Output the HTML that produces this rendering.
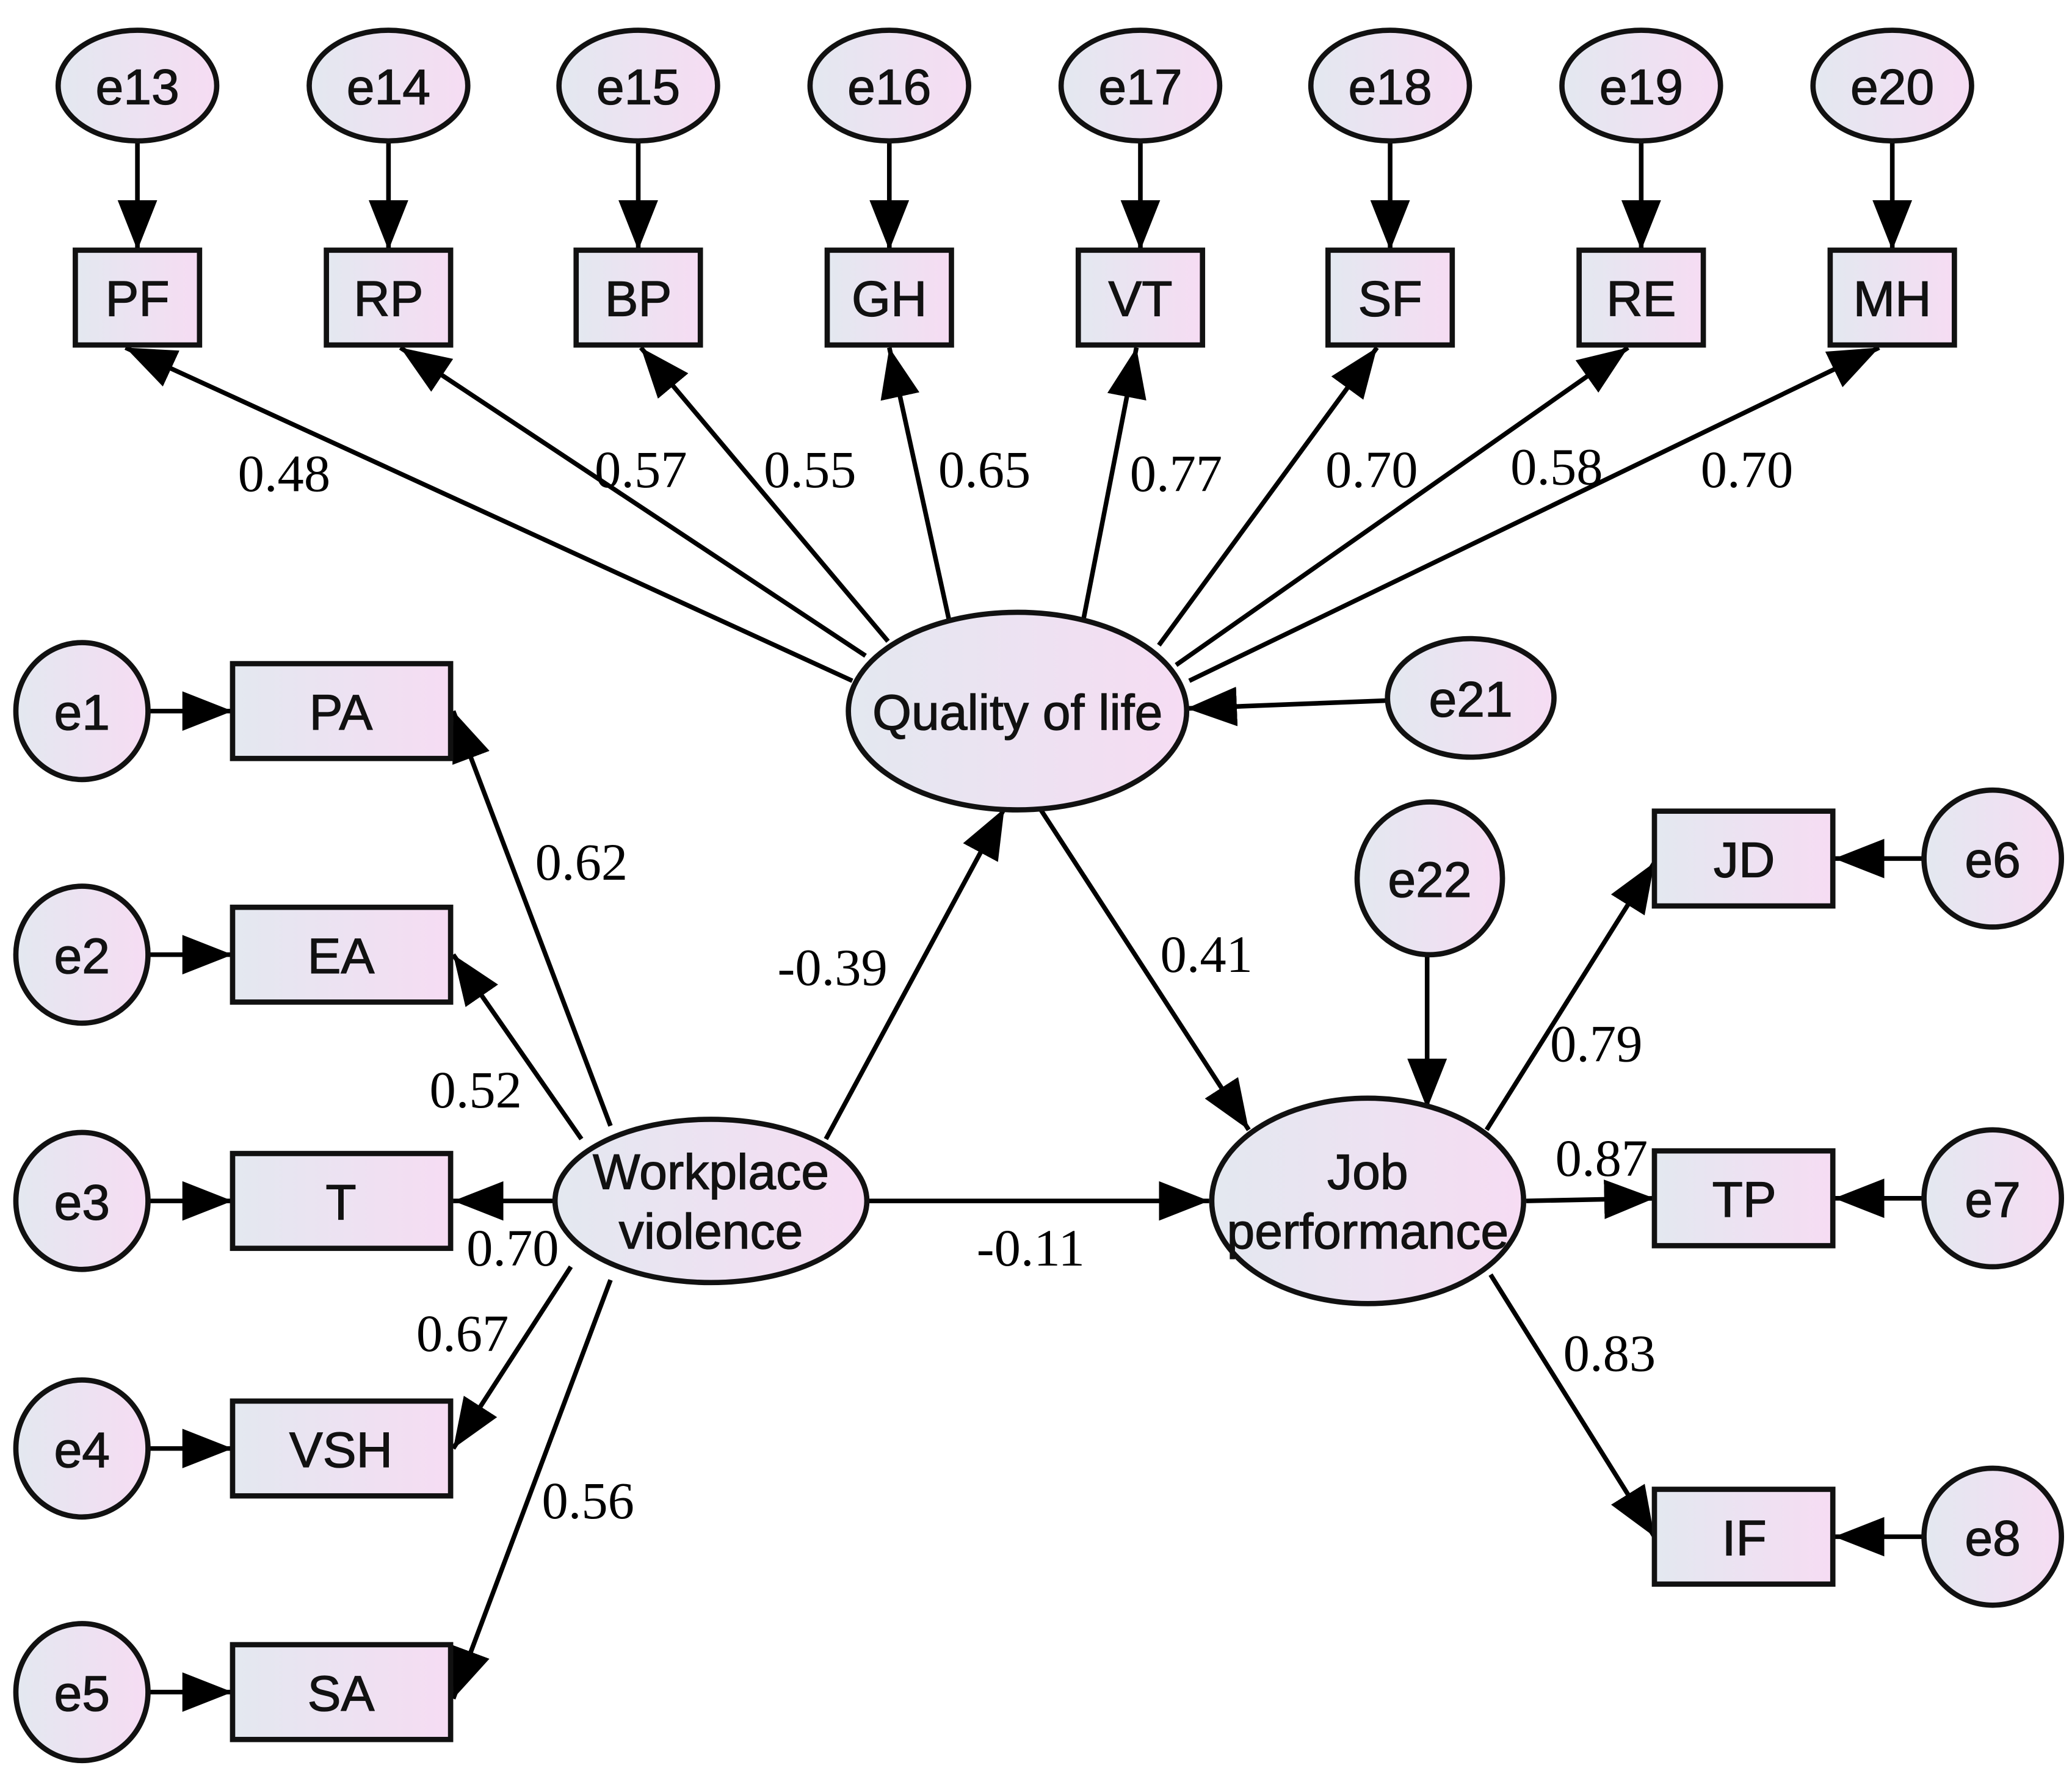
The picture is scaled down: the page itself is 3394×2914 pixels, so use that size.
<!DOCTYPE html>
<html><head><meta charset="utf-8"><style>html,body{margin:0;padding:0;background:#fff}svg{display:block}</style></head><body>
<svg width="3394" height="2914" viewBox="0 0 1568 1351" preserveAspectRatio="none" xmlns="http://www.w3.org/2000/svg">
<defs>
<linearGradient id="g" x1="0" y1="0" x2="1" y2="0"><stop offset="0" stop-color="#e3e8f0"/><stop offset="1" stop-color="#f6dcf3"/></linearGradient>
<marker id="a" markerUnits="userSpaceOnUse" markerWidth="40" markerHeight="32" refX="38" refY="15" orient="auto"><path d="M0,0 L38,15 L0,30 Z" fill="#000"/></marker>
</defs>
<g stroke="#000" stroke-width="3.5" fill="none" marker-end="url(#a)">
<line x1="104" y1="107" x2="104" y2="190"/><line x1="294" y1="107" x2="294" y2="190"/><line x1="483" y1="107" x2="483" y2="190"/><line x1="673" y1="107" x2="673" y2="190"/><line x1="863" y1="107" x2="863" y2="190"/><line x1="1052" y1="107" x2="1052" y2="190"/><line x1="1242" y1="107" x2="1242" y2="190"/><line x1="1432" y1="107" x2="1432" y2="190"/>
<line x1="645" y1="517" x2="95" y2="264"/><line x1="655" y1="498" x2="303" y2="264"/><line x1="672" y1="487" x2="485" y2="264"/><line x1="718" y1="470" x2="673" y2="264"/><line x1="820" y1="470" x2="860" y2="264"/><line x1="877" y1="490" x2="1042" y2="264"/><line x1="890" y1="505" x2="1232" y2="264"/><line x1="900" y1="517" x2="1422" y2="264"/>
<line x1="1050" y1="532" x2="898" y2="538"/>
<line x1="112" y1="540" x2="176" y2="540"/><line x1="112" y1="725" x2="176" y2="725"/><line x1="112" y1="912" x2="176" y2="912"/><line x1="112" y1="1100" x2="176" y2="1100"/><line x1="112" y1="1285" x2="176" y2="1285"/>
<line x1="462" y1="855" x2="343" y2="540"/><line x1="440" y1="865" x2="343" y2="725"/><line x1="420" y1="912" x2="343" y2="912"/><line x1="432" y1="962" x2="343" y2="1100"/><line x1="462" y1="972" x2="343" y2="1290"/>
<line x1="625" y1="865" x2="760" y2="614"/><line x1="787" y1="614" x2="945" y2="858"/><line x1="656" y1="912" x2="915" y2="912"/>
<line x1="1080" y1="725" x2="1080" y2="842"/>
<line x1="1125" y1="858" x2="1252" y2="655"/><line x1="1155" y1="912" x2="1252" y2="910"/><line x1="1128" y1="968" x2="1252" y2="1167"/>
<line x1="1456" y1="652" x2="1388" y2="652"/><line x1="1456" y1="910" x2="1388" y2="910"/><line x1="1456" y1="1167" x2="1388" y2="1167"/>
</g>
<g stroke="#111" stroke-width="4" fill="url(#g)">
<ellipse cx="104" cy="65" rx="60" ry="42"/><ellipse cx="294" cy="65" rx="60" ry="42"/><ellipse cx="483" cy="65" rx="60" ry="42"/><ellipse cx="673" cy="65" rx="60" ry="42"/><ellipse cx="863" cy="65" rx="60" ry="42"/><ellipse cx="1052" cy="65" rx="60" ry="42"/><ellipse cx="1242" cy="65" rx="60" ry="42"/><ellipse cx="1432" cy="65" rx="60" ry="42"/>
<rect x="57" y="190" width="94" height="72"/><rect x="247" y="190" width="94" height="72"/><rect x="436" y="190" width="94" height="72"/><rect x="626" y="190" width="94" height="72"/><rect x="816" y="190" width="94" height="72"/><rect x="1005" y="190" width="94" height="72"/><rect x="1195" y="190" width="94" height="72"/><rect x="1385" y="190" width="94" height="72"/>
<ellipse cx="770" cy="540" rx="128" ry="75"/><ellipse cx="1113" cy="530" rx="63" ry="45"/>
<ellipse cx="62" cy="540" rx="50" ry="52"/><ellipse cx="62" cy="725" rx="50" ry="52"/><ellipse cx="62" cy="912" rx="50" ry="52"/><ellipse cx="62" cy="1100" rx="50" ry="52"/><ellipse cx="62" cy="1285" rx="50" ry="52"/>
<rect x="176" y="504" width="165" height="72"/><rect x="176" y="689" width="165" height="72"/><rect x="176" y="876" width="165" height="72"/><rect x="176" y="1064" width="165" height="72"/><rect x="176" y="1249" width="165" height="72"/>
<ellipse cx="538" cy="912" rx="118" ry="62"/><ellipse cx="1035" cy="912" rx="118" ry="78"/>
<ellipse cx="1082" cy="667" rx="55" ry="58"/>
<rect x="1252" y="616" width="135" height="72"/><rect x="1252" y="874" width="135" height="72"/><rect x="1252" y="1131" width="135" height="72"/>
<ellipse cx="1508" cy="652" rx="52" ry="52"/><ellipse cx="1508" cy="910" rx="52" ry="52"/><ellipse cx="1508" cy="1167" rx="52" ry="52"/>
</g>
<g font-family="Liberation Sans, sans-serif" font-size="38" text-anchor="middle" fill="#111" stroke="#111" stroke-width="0.6">
<text x="104" y="79">e13</text><text x="294" y="79">e14</text><text x="483" y="79">e15</text><text x="673" y="79">e16</text><text x="863" y="79">e17</text><text x="1052" y="79">e18</text><text x="1242" y="79">e19</text><text x="1432" y="79">e20</text>
<text x="104" y="240">PF</text><text x="294" y="240">RP</text><text x="483" y="240">BP</text><text x="673" y="240">GH</text><text x="863" y="240">VT</text><text x="1052" y="240">SF</text><text x="1242" y="240">RE</text><text x="1432" y="240">MH</text>
<text x="770" y="554">Quality of life</text><text x="1113" y="544">e21</text>
<text x="62" y="554">e1</text><text x="62" y="739">e2</text><text x="62" y="926">e3</text><text x="62" y="1114">e4</text><text x="62" y="1299">e5</text>
<text x="258" y="554">PA</text><text x="258" y="739">EA</text><text x="258" y="926">T</text><text x="258" y="1114">VSH</text><text x="258" y="1299">SA</text>
<text x="538" y="903">Workplace</text><text x="538" y="948">violence</text>
<text x="1035" y="903">Job</text><text x="1035" y="948">performance</text>
<text x="1082" y="681">e22</text>
<text x="1320" y="666">JD</text><text x="1320" y="924">TP</text><text x="1320" y="1181">IF</text>
<text x="1508" y="666">e6</text><text x="1508" y="924">e7</text><text x="1508" y="1181">e8</text>
</g>
<g font-family="Liberation Serif, serif" font-size="40" text-anchor="middle" fill="#000">
<text x="215" y="373">0.48</text><text x="485" y="370">0.57</text><text x="613" y="370">0.55</text><text x="745" y="370">0.65</text><text x="890" y="373">0.77</text><text x="1038" y="370">0.70</text><text x="1178" y="368">0.58</text><text x="1322" y="370">0.70</text>
<text x="440" y="668">0.62</text><text x="360" y="841">0.52</text><text x="388" y="961">0.70</text><text x="350" y="1026">0.67</text><text x="445" y="1153">0.56</text>
<text x="630" y="748">-0.39</text><text x="913" y="738">0.41</text><text x="780" y="961">-0.11</text>
<text x="1208" y="806">0.79</text><text x="1212" y="893">0.87</text><text x="1218" y="1041">0.83</text>
</g>
</svg>
</body></html>
